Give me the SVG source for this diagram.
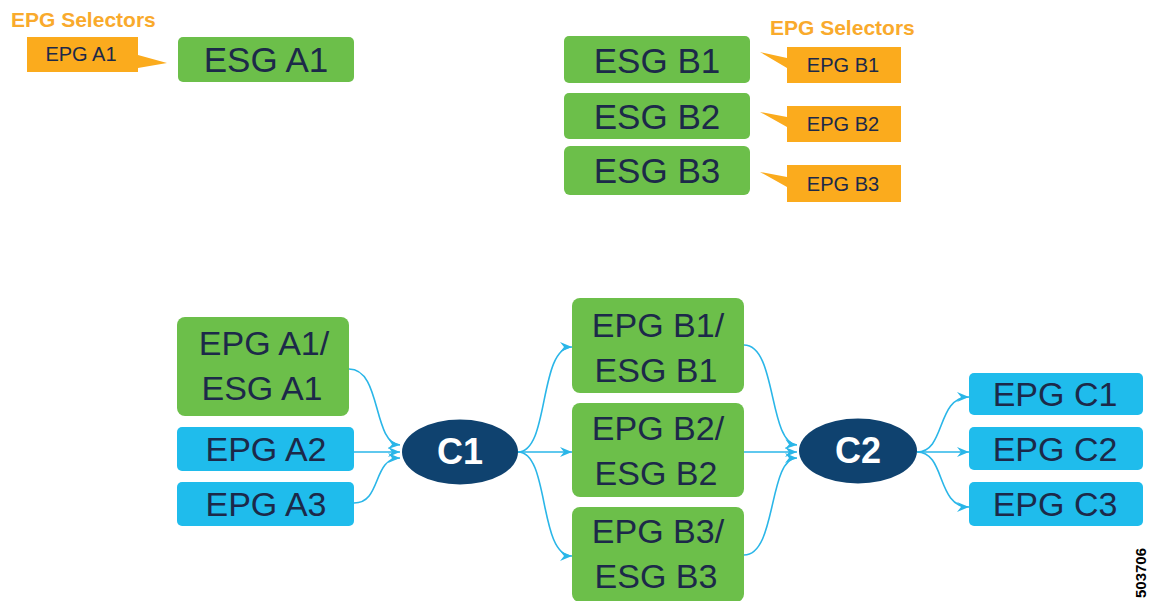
<svg xmlns="http://www.w3.org/2000/svg" width="1149" height="601" viewBox="0 0 1149 601">
<defs>
<style>
.g{fill:#6cbf4a}
.b{fill:#1fbcec}
.o{fill:#fbab1d}
.t{font-family:"Liberation Sans",Arial,sans-serif;fill:#1c2949;text-anchor:middle}
.big{font-size:35px}
.mid{font-size:34px}
.sm{font-size:20px}
.sel{font-family:"Liberation Sans",Arial,sans-serif;font-weight:bold;font-size:21px;fill:#f9aa2c}
.cn{fill:#0f426f}
.ct{font-family:"Liberation Sans",Arial,sans-serif;font-weight:bold;font-size:36px;fill:#ffffff;text-anchor:middle}
.ln{fill:none;stroke:#2ab6e8;stroke-width:1.6;marker-end:url(#ah)}
</style>
<marker id="ah" markerUnits="userSpaceOnUse" markerWidth="14" markerHeight="12" refX="12" refY="5" orient="auto">
<path d="M0,0 L12,5 L0,10 L4,5 z" fill="#2ab6e8"/>
</marker>
</defs>
<rect width="1149" height="601" fill="#ffffff"/>

<g id="selectors-a">
<text class="sel" x="11" y="27">EPG Selectors</text>
</g>
<g id="epg-a1-sel">
<path class="o" d="M27,37 H138 V55 L167,63 L138,68 V72 H27 z"/>
<text class="t sm" x="81" y="61">EPG A1</text>
</g>
<g id="esg-a1">
<rect class="g" x="178" y="37" width="176" height="45" rx="5"/>
<text class="t big" x="266" y="72">ESG A1</text>
</g>

<g id="selectors-b">
<text class="sel" x="770" y="35">EPG Selectors</text>
</g>
<g id="esg-b1">
<rect class="g" x="564" y="36" width="186" height="47" rx="5"/>
<text class="t big" x="657" y="73">ESG B1</text>
</g>
<g id="esg-b2">
<rect class="g" x="564" y="93" width="186" height="46" rx="5"/>
<text class="t big" x="657" y="129">ESG B2</text>
</g>
<g id="esg-b3">
<rect class="g" x="564" y="146" width="186" height="49" rx="6"/>
<text class="t big" x="657" y="183">ESG B3</text>
</g>
<g id="epg-b1-sel">
<path class="o" d="M787,47 H901 V83 H787 V68 L760,52 L787,58 z"/>
<text class="t sm" x="843" y="72">EPG B1</text>
</g>
<g id="epg-b2-sel">
<path class="o" d="M787,106 H901 V142 H787 V127 L760,112 L787,117 z"/>
<text class="t sm" x="843" y="131">EPG B2</text>
</g>
<g id="epg-b3-sel">
<path class="o" d="M787,165 H901 V202 H787 V187 L760,172 L787,177 z"/>
<text class="t sm" x="843" y="191">EPG B3</text>
</g>

<g id="connectors">
<path class="ln" d="M349,369 C382,369 372,443 400,445"/>
<path class="ln" d="M354,452 L400,452"/>
<path class="ln" d="M354,503 C382,503 372,458 400,458"/>
<path class="ln" d="M518,452 C550,452 538,347 572,347"/>
<path class="ln" d="M518,452 L572,452"/>
<path class="ln" d="M518,452 C550,452 538,556 572,556"/>
<path class="ln" d="M744,345 C777,345 768,443 797,445"/>
<path class="ln" d="M744,452 L797,452"/>
<path class="ln" d="M744,555 C777,555 768,458 797,458"/>
<path class="ln" d="M917,452 C946,452 936,397 969,397"/>
<path class="ln" d="M917,452 L969,452"/>
<path class="ln" d="M917,452 C946,452 936,507 969,507"/>
</g>

<g id="epg-a1-esg-a1">
<rect class="g" x="177" y="317" width="172" height="99" rx="8"/>
<text class="t mid" x="264" y="355">EPG A1/</text>
<text class="t mid" x="262" y="400">ESG A1</text>
</g>
<g id="epg-a2">
<rect class="b" x="177" y="427" width="177" height="44" rx="5"/>
<text class="t mid" x="266" y="461">EPG A2</text>
</g>
<g id="epg-a3">
<rect class="b" x="177" y="482" width="177" height="44" rx="5"/>
<text class="t mid" x="266" y="516">EPG A3</text>
</g>

<g id="c1">
<ellipse class="cn" cx="460" cy="452" rx="58" ry="32.5"/>
<text class="ct" x="460" y="464">C1</text>
</g>

<g id="epg-b1-esg-b1">
<rect class="g" x="572" y="298" width="172" height="95" rx="8"/>
<text class="t mid" x="658" y="337">EPG B1/</text>
<text class="t mid" x="656" y="382">ESG B1</text>
</g>
<g id="epg-b2-esg-b2">
<rect class="g" x="572" y="403" width="172" height="94" rx="8"/>
<text class="t mid" x="658" y="440">EPG B2/</text>
<text class="t mid" x="656" y="485">ESG B2</text>
</g>
<g id="epg-b3-esg-b3">
<rect class="g" x="572" y="507" width="172" height="95" rx="8"/>
<text class="t mid" x="658" y="543">EPG B3/</text>
<text class="t mid" x="656" y="588">ESG B3</text>
</g>

<g id="c2">
<ellipse class="cn" cx="858" cy="451" rx="59" ry="32.5"/>
<text class="ct" x="858" y="463">C2</text>
</g>

<g id="epg-c1">
<rect class="b" x="969" y="373" width="174" height="42" rx="5"/>
<text class="t mid" x="1055" y="406">EPG C1</text>
</g>
<g id="epg-c2">
<rect class="b" x="969" y="427" width="174" height="43" rx="5"/>
<text class="t mid" x="1055" y="461">EPG C2</text>
</g>
<g id="epg-c3">
<rect class="b" x="969" y="482" width="174" height="44" rx="5"/>
<text class="t mid" x="1055" y="516">EPG C3</text>
</g>

<text x="0" y="0" transform="translate(1146,598) rotate(-90)" font-family="'Liberation Sans',Arial,sans-serif" font-weight="bold" font-size="15" fill="#000000">503706</text>
</svg>
